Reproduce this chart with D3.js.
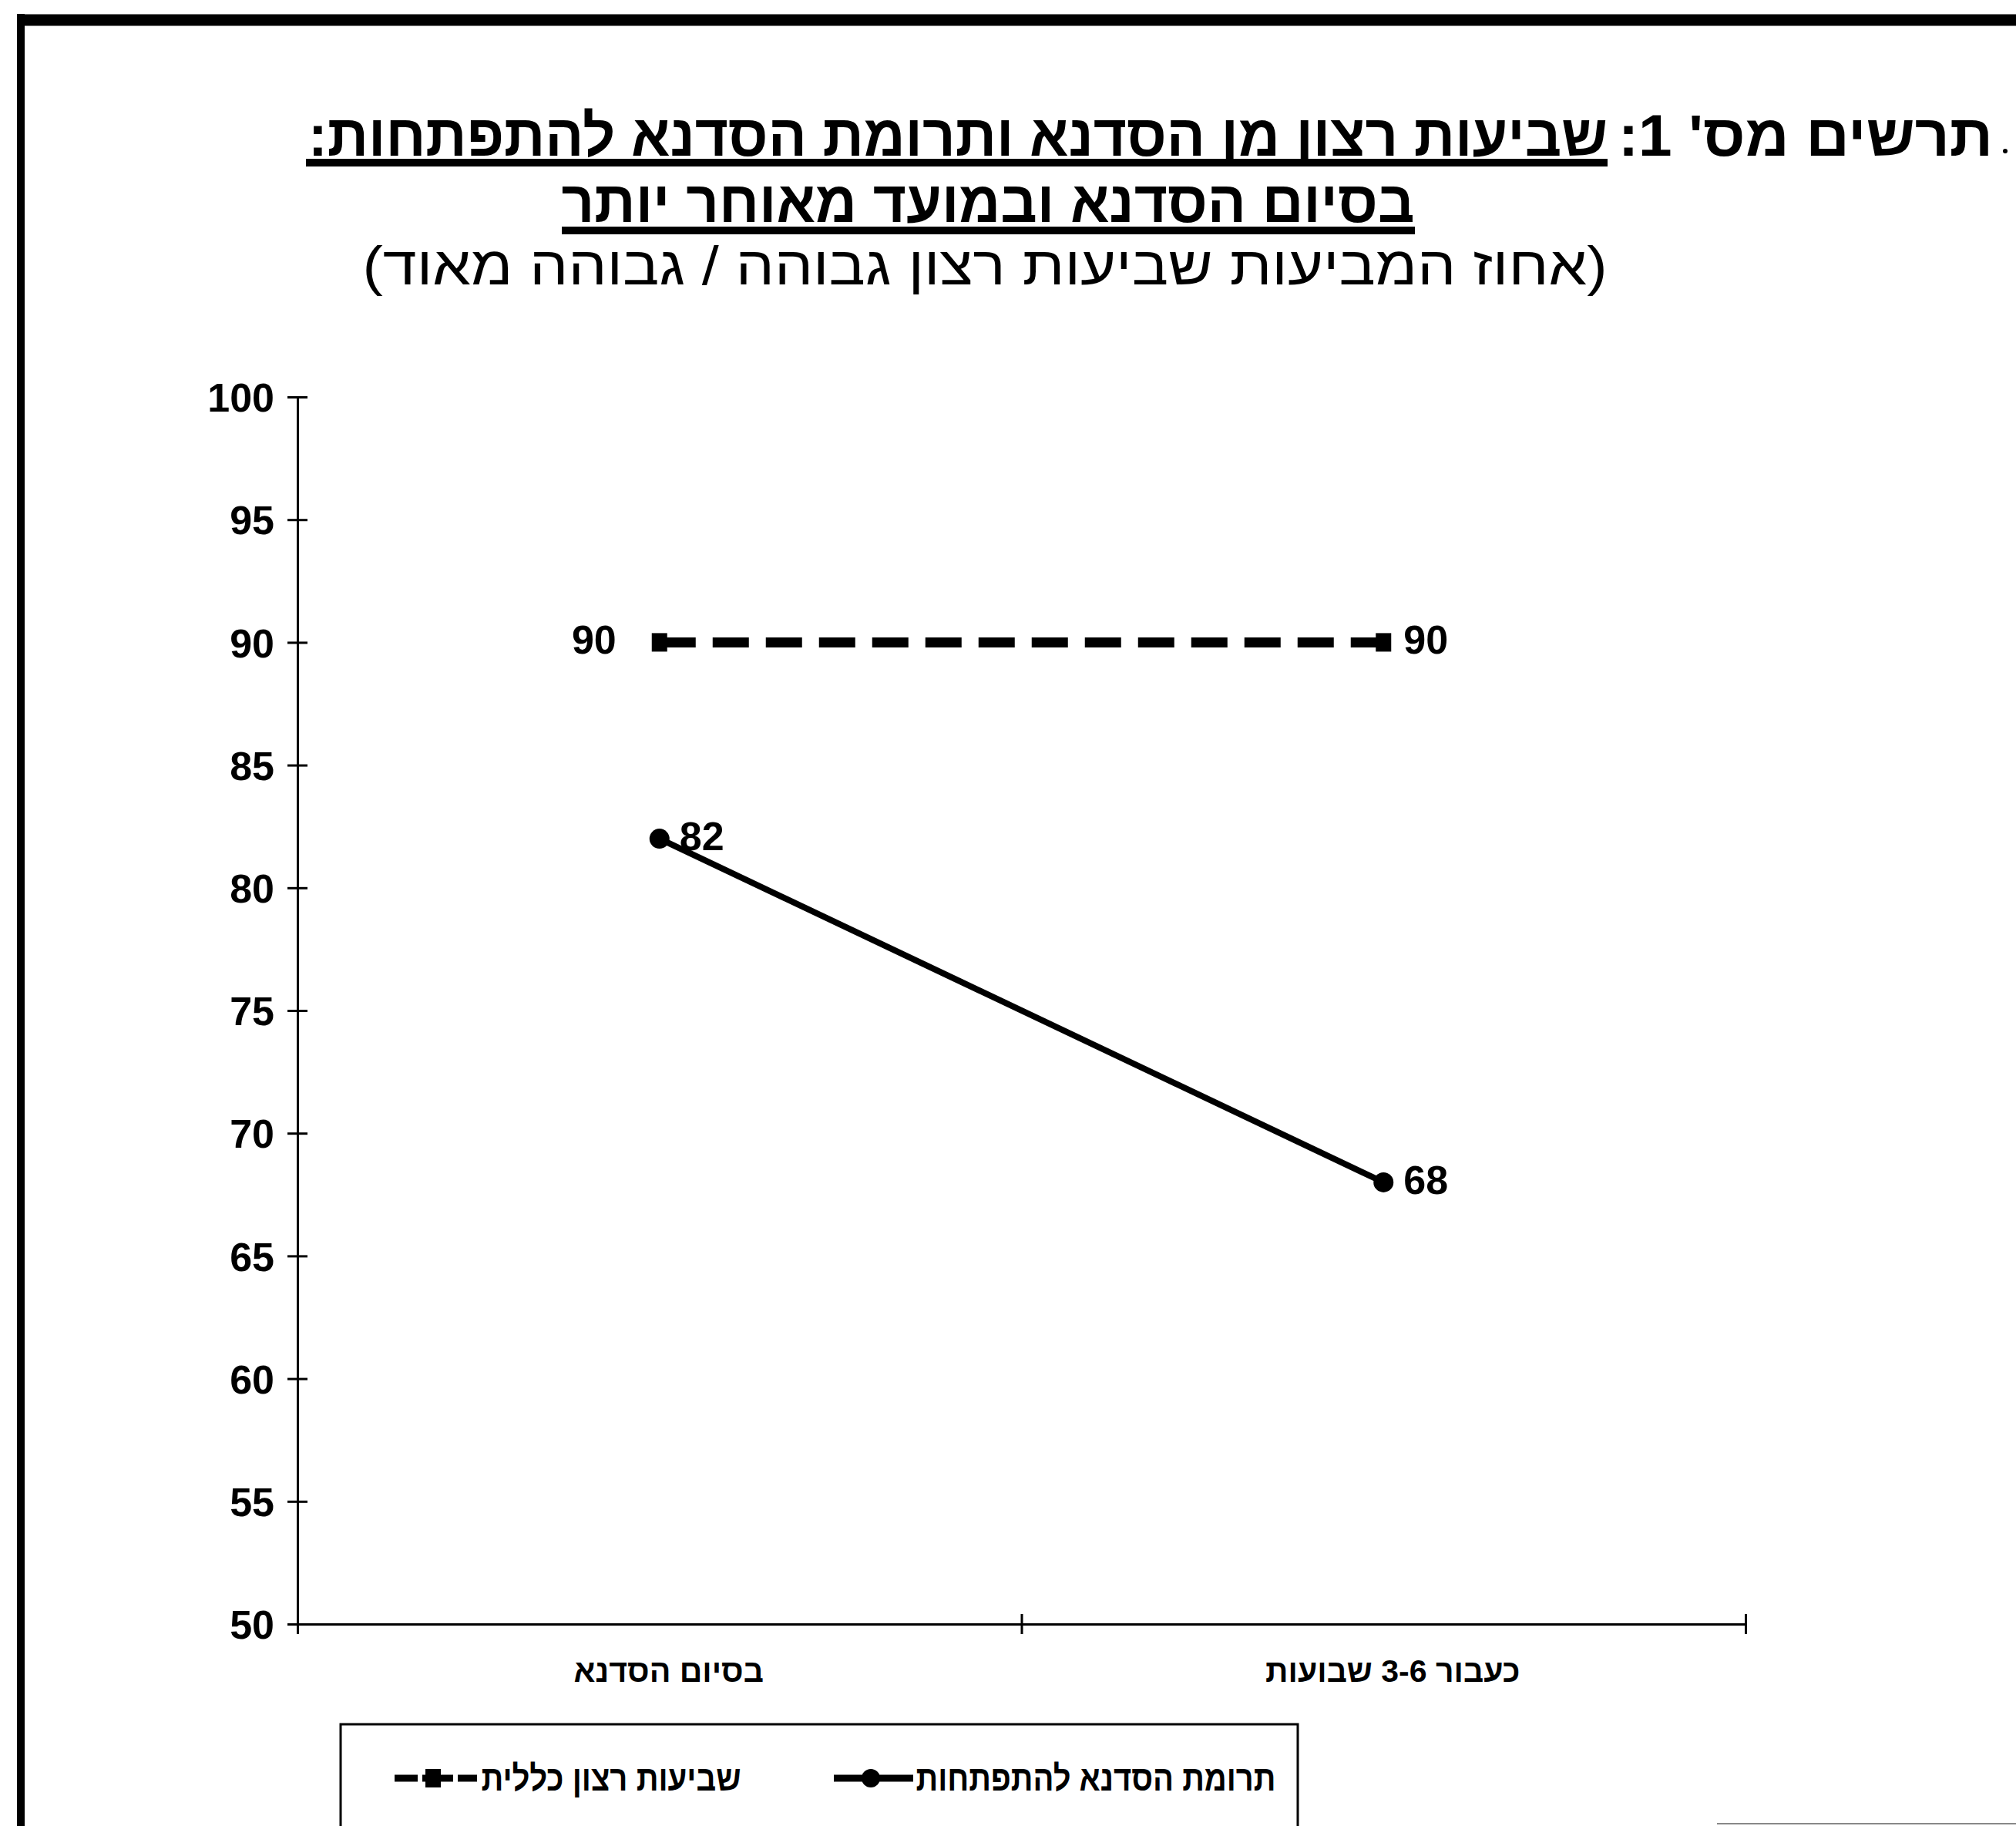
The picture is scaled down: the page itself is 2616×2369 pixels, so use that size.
<!DOCTYPE html>
<html>
<head>
<meta charset="utf-8">
<script src="https://cdn.jsdelivr.net/npm/d3@7/dist/d3.min.js"></script>
<style>
  html, body { margin: 0; padding: 0; background: #fff; }
  svg { display: block; }
</style>
</head>
<body>
<svg id="chart" width="2616" height="2369"></svg>
<script>
// ---------------- data ----------------
const categories = ["בסיום הסדנא", "כעבור 3-6 שבועות"];
const seriesNames = ["תרומת הסדנא להתפתחות", "שביעות רצון כללית"];
const contributionValues = [82, 68];   // solid line, circle markers
const satisfactionValues = [90, 90];   // dashed line, square markers
const yTickValues = [50, 55, 60, 65, 70, 75, 80, 85, 90, 95, 100];
const titlePrefix = "תרשים מס' 1:";
const titleMain = "שביעות רצון מן הסדנא ותרומת הסדנא להתפתחות:";
const titleLine2 = "בסיום הסדנא ובמועד מאוחר יותר";
const subtitle = "(אחוז המביעות שביעות רצון גבוהה / גבוהה מאוד)";

// ---------------- layout ----------------
const svg = d3.select("#chart");
const W = 2616, H = 2369;
const plot = { left: 386, right: 2265, top: 515, bottom: 2107 };
const hebFont = "'Liberation Sans', 'DejaVu Sans', Arial, sans-serif";
const numFont = "'Liberation Sans Narrow', 'Liberation Sans', Arial, sans-serif";

svg.append("rect").attr("width", W).attr("height", H).attr("fill", "#fff");

// frame (scanned page border)
svg.append("line").attr("x1", 27).attr("x2", 27).attr("y1", 18).attr("y2", H)
  .attr("stroke", "#000").attr("stroke-width", 10);
svg.append("line").attr("x1", 22).attr("x2", W).attr("y1", 26).attr("y2", 26)
  .attr("stroke", "#000").attr("stroke-width", 15);
svg.append("line").attr("x1", 2228).attr("x2", W).attr("y1", 2366).attr("y2", 2366)
  .attr("stroke", "#888").attr("stroke-width", 2);

// ---------------- titles ----------------
function rtlText(txt, cx, y, width, size, weight) {
  return svg.append("text")
    .attr("x", cx).attr("y", y)
    .attr("direction", "rtl")
    .attr("text-anchor", "middle")
    .attr("font-family", hebFont)
    .attr("font-size", size)
    .attr("font-weight", weight)
    .attr("textLength", width)
    .attr("lengthAdjust", "spacingAndGlyphs")
    .attr("fill", "#000")
    .text(txt);
}
rtlText(titlePrefix, 2343, 202, 486, 76, "bold");
rtlText(titleMain, 1243, 202, 1686, 76, "bold");
svg.append("circle").attr("cx", 2602).attr("cy", 196).attr("r", 3).attr("fill", "#000");
svg.append("rect").attr("x", 397).attr("y", 206).attr("width", 2086 - 397).attr("height", 10).attr("fill", "#000");
rtlText(titleLine2, 1282, 288, 1107, 76, "bold");
svg.append("rect").attr("x", 729).attr("y", 294).attr("width", 1836 - 729).attr("height", 10).attr("fill", "#000");
rtlText(subtitle, 1278, 369, 1615, 70, "normal");

// ---------------- scales ----------------
const x = d3.scaleBand().domain(categories).range([plot.left, plot.right]);
const xc = c => x(c) + x.bandwidth() / 2;
const xEdges = d3.scaleLinear().domain([0, categories.length]).range([plot.left, plot.right]);
const y = d3.scaleLinear().domain([50, 100]).range([plot.bottom, plot.top]);

// ---------------- axes ----------------
const yAxisG = svg.append("g").attr("transform", `translate(${plot.left},0)`)
  .call(d3.axisLeft(y).tickValues(yTickValues).tickSize(13).tickSizeOuter(0).tickPadding(17));
yAxisG.select(".domain").attr("stroke", "#000").attr("stroke-width", 3);
yAxisG.selectAll(".tick line").attr("x1", 13).attr("stroke", "#000").attr("stroke-width", 3);
yAxisG.selectAll(".tick text")
  .attr("font-family", numFont).attr("font-size", 52).attr("font-weight", "bold").attr("fill", "#000")
  .attr("dy", "0.36em");

const xAxisG = svg.append("g").attr("transform", `translate(0,${plot.bottom})`)
  .call(d3.axisBottom(xEdges).tickValues(d3.range(0, categories.length + 1)).tickSize(13).tickSizeOuter(0).tickFormat(""));
xAxisG.select(".domain").attr("stroke", "#000").attr("stroke-width", 3);
xAxisG.selectAll(".tick line").attr("y1", -13).attr("stroke", "#000").attr("stroke-width", 3);

const xLabelG = svg.append("g").attr("transform", `translate(12,${plot.bottom})`)
  .call(d3.axisBottom(x).tickSize(0).tickPadding(46));
xLabelG.select(".domain").remove();
xLabelG.selectAll(".tick text")
  .attr("direction", "rtl")
  .attr("font-family", hebFont).attr("font-size", 41).attr("font-weight", "bold").attr("fill", "#000");

// ---------------- series ----------------
const contribution = categories.map((c, i) => ({ c, v: contributionValues[i] }));
const satisfaction = categories.map((c, i) => ({ c, v: satisfactionValues[i] }));
const line = d3.line().x(d => xc(d.c)).y(d => y(d.v));

svg.append("path").datum(satisfaction).attr("d", line)
  .attr("fill", "none").attr("stroke", "#000").attr("stroke-width", 13)
  .attr("stroke-dasharray", "47 22");
svg.append("path").datum(contribution).attr("d", line)
  .attr("fill", "none").attr("stroke", "#000").attr("stroke-width", 8);

svg.selectAll("rect.sq").data(satisfaction).join("rect").attr("class", "sq")
  .attr("x", d => xc(d.c) - 10).attr("y", d => y(d.v) - 12)
  .attr("width", 20).attr("height", 24).attr("fill", "#000");
svg.selectAll("circle.dot").data(contribution).join("circle").attr("class", "dot")
  .attr("cx", d => xc(d.c)).attr("cy", d => y(d.v)).attr("r", 13).attr("fill", "#000");

// data labels
function dataLabels(data, sides) {
  svg.selectAll(null).data(data).join("text")
    .attr("x", (d, i) => sides[i] === "left" ? xc(d.c) - 56 : xc(d.c) + 26)
    .attr("y", d => y(d.v) - 4)
    .attr("dy", "0.36em")
    .attr("text-anchor", (d, i) => sides[i] === "left" ? "end" : "start")
    .attr("font-family", numFont).attr("font-size", 52).attr("font-weight", "bold").attr("fill", "#000")
    .text(d => d.v);
}
dataLabels(satisfaction, ["left", "right"]);
dataLabels(contribution, ["right", "right"]);

// ---------------- legend ----------------
const legend = svg.append("g");
legend.append("rect").attr("x", 442).attr("y", 2237).attr("width", 1684 - 442).attr("height", 200)
  .attr("fill", "none").attr("stroke", "#000").attr("stroke-width", 3);
const ly = 2307;
// item 1 (right): contribution
legend.append("line").attr("x1", 1082).attr("x2", 1185).attr("y1", ly).attr("y2", ly)
  .attr("stroke", "#000").attr("stroke-width", 9);
legend.append("circle").attr("cx", 1130).attr("cy", ly).attr("r", 12).attr("fill", "#000");
legend.append("text").attr("x", 1422).attr("y", ly + 16)
  .attr("direction", "rtl").attr("text-anchor", "middle")
  .attr("font-family", hebFont).attr("font-size", 46).attr("font-weight", "bold")
  .attr("textLength", 467).attr("lengthAdjust", "spacingAndGlyphs")
  .text(seriesNames[0]);
// item 2 (left): satisfaction
legend.append("line").attr("x1", 512).attr("x2", 619).attr("y1", ly).attr("y2", ly)
  .attr("stroke", "#000").attr("stroke-width", 9).attr("stroke-dasharray", "30 6 40 6 40");
legend.append("rect").attr("x", 552).attr("y", ly - 12).attr("width", 20).attr("height", 24).attr("fill", "#000");
legend.append("text").attr("x", 793).attr("y", ly + 16)
  .attr("direction", "rtl").attr("text-anchor", "middle")
  .attr("font-family", hebFont).attr("font-size", 46).attr("font-weight", "bold")
  .attr("textLength", 337).attr("lengthAdjust", "spacingAndGlyphs")
  .text(seriesNames[1]);
</script>
</body>
</html>
